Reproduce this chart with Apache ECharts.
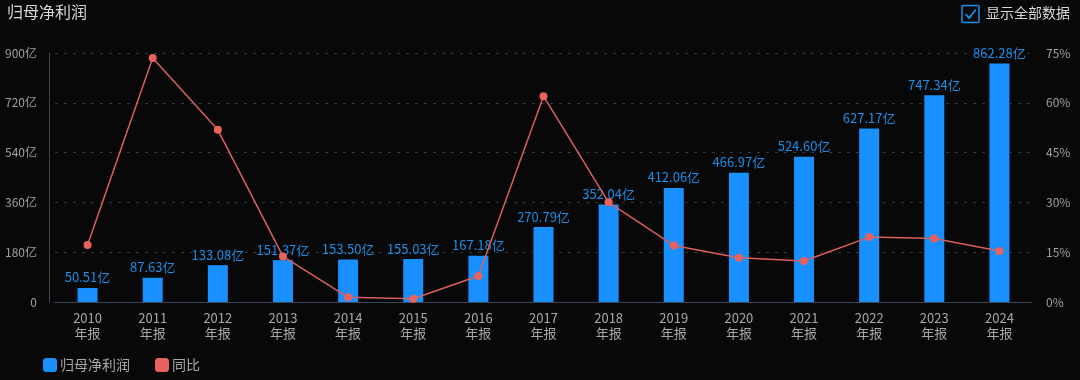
<!DOCTYPE html>
<html>
<head>
<meta charset="utf-8">
<script src="https://cdn.jsdelivr.net/npm/echarts@6/dist/echarts.min.js"></script>
<style>
html,body{margin:0;padding:0;background:#080808;}
#c{width:1080px;height:380px;}
</style>
</head>
<body>
<div id="c"></div>
<script>
const years = ['2010','2011','2012','2013','2014','2015','2016','2017','2018','2019','2020','2021','2022','2023','2024'];
const profit = [50.51,87.63,133.08,151.37,153.50,155.03,167.18,270.79,352.04,412.06,466.97,524.60,627.17,747.34,862.28];
const yoy = [17.2,73.49,51.87,13.74,1.41,1.00,7.84,61.98,30.01,17.05,13.33,12.34,19.55,19.16,15.38];
const leftTicks = {min:0,max:900,interval:180};
const rightTicks = {min:0,max:75,interval:15};

const chart = echarts.init(document.getElementById('c'), null, {renderer:'canvas'});
const font = '"Noto Sans CJK SC","Noto Sans",sans-serif';
chart.setOption({
  backgroundColor:'#080808',
  textStyle:{fontFamily:font},
  title:{text:'归母净利润',left:2,top:-1,textStyle:{color:'#d8d8d8',fontSize:16,fontWeight:'normal',fontFamily:font}},
  legend:{
    left:38,top:353,itemWidth:14,itemHeight:14,itemGap:25,
    icon:'roundRect',
    textStyle:{color:'#a8a8a8',fontSize:14,fontFamily:font,padding:[0,0,0,-2]},
    data:['归母净利润','同比']
  },
  graphic:[
    {type:'group',right:10,top:3,children:[
      {type:'rect',shape:{x:0,y:0,width:17,height:17,r:1},style:{fill:'none',stroke:'#1a8fe8',lineWidth:1.5}},
      {type:'polyline',shape:{points:[[3.5,8.5],[7,12.5],[14,4]]},style:{fill:'none',stroke:'#1a8fe8',lineWidth:1.8}},
      {type:'text',x:24,y:0,style:{text:'显示全部数据',fill:'#d8d8d8',font:'14px '+font,textVerticalAlign:'top'}}
    ]}
  ],
  grid:{left:55,right:48,top:53,bottom:78},
  xAxis:{
    type:'category',data:years,
    axisLine:{lineStyle:{color:'#3a4858'}},
    axisTick:{show:false},
    axisLabel:{color:'#a8a8a8',fontSize:13,lineHeight:15,margin:9,formatter:v=>v+'\n年报'}
  },
  yAxis:[
    {type:'value',min:leftTicks.min,max:leftTicks.max,interval:leftTicks.interval,offset:6,
     axisLine:{show:true,lineStyle:{color:'#3a4858'}},
     axisLabel:{color:'#a0a0a0',fontSize:12,margin:12,formatter:v=>v===0?'0':v+'亿'},
     splitLine:{lineStyle:{color:'#2c3844',type:[3,6]}}},
    {type:'value',min:rightTicks.min,max:rightTicks.max,interval:rightTicks.interval,
     axisLine:{show:false},
     axisLabel:{color:'#a0a0a0',fontSize:12,margin:14,formatter:v=>v+'%'},
     splitLine:{show:false}}
  ],
  series:[
    {name:'归母净利润',type:'bar',data:profit,barWidth:20,
     itemStyle:{color:'#1890ff'},
     label:{show:true,position:'top',color:'#1c8ee8',fontSize:13,distance:4,formatter:p=>p.value.toFixed(2)+'亿'}},
    {name:'同比',type:'line',yAxisIndex:1,data:yoy,symbol:'circle',symbolSize:8,
     lineStyle:{color:'#d9605c',width:1.5},itemStyle:{color:'#e8625e'}}
  ]
});
</script>
</body>
</html>
